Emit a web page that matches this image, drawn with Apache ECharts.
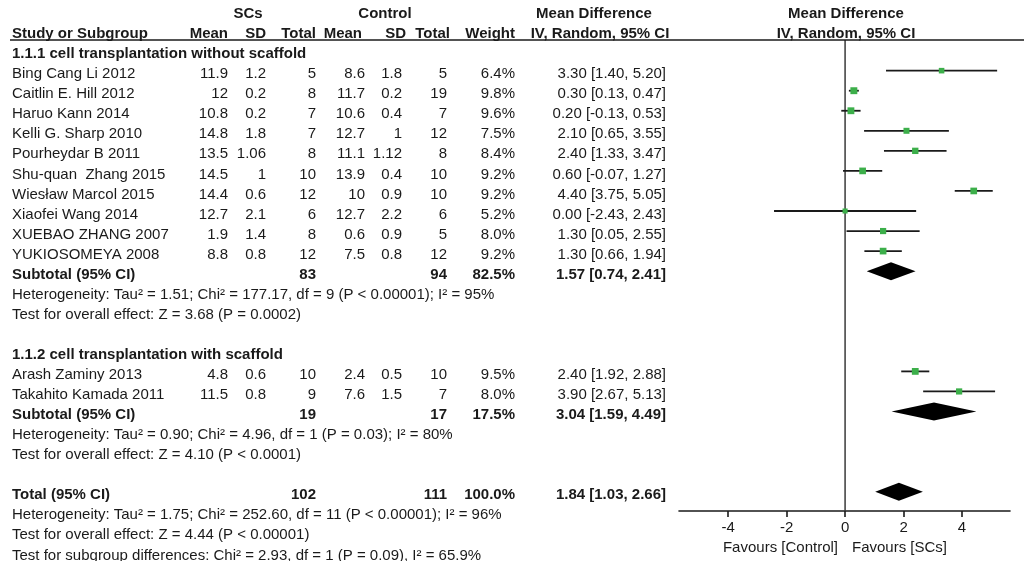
<!DOCTYPE html>
<html><head><meta charset="utf-8">
<script src="https://cdn.jsdelivr.net/npm/echarts@6/dist/echarts.min.js"></script>
<style>html,body{margin:0;padding:0;background:#fff}#c{width:1024px;height:561px}</style>
</head><body><div id="c"></div>
<script>
// ---- data ----
const studies1 = ['Bing Cang Li 2012','Caitlin E. Hill 2012','Haruo Kann 2014','Kelli G. Sharp 2010','Pourheydar B 2011','Shu-quan  Zhang 2015','Wiesław Marcol 2015','Xiaofei Wang 2014','XUEBAO ZHANG 2007','YUKIOSOMEYA 2008'];
const scMean1 = [11.9,12,10.8,14.8,13.5,14.5,14.4,12.7,1.9,8.8];
const scSD1 = [1.2,0.2,0.2,1.8,1.06,1,0.6,2.1,1.4,0.8];
const scN1 = [5,8,7,7,8,10,12,6,8,12];
const ctMean1 = [8.6,11.7,10.6,12.7,11.1,13.9,10,12.7,0.6,7.5];
const ctSD1 = [1.8,0.2,0.4,1,1.12,0.4,0.9,2.2,0.9,0.8];
const ctN1 = [5,19,7,12,8,10,10,6,5,12];
const weight1 = [6.4,9.8,9.6,7.5,8.4,9.2,9.2,5.2,8.0,9.2];
const md1 = [3.30,0.30,0.20,2.10,2.40,0.60,4.40,0.00,1.30,1.30];
const lo1 = [1.40,0.13,-0.13,0.65,1.33,-0.07,3.75,-2.43,0.05,0.66];
const hi1 = [5.20,0.47,0.53,3.55,3.47,1.27,5.05,2.43,2.55,1.94];

const studies2 = ['Arash Zaminy 2013','Takahito Kamada 2011'];
const scMean2 = [4.8,11.5];
const scSD2 = [0.6,0.8];
const scN2 = [10,9];
const ctMean2 = [2.4,7.6];
const ctSD2 = [0.5,1.5];
const ctN2 = [10,7];
const weight2 = [9.5,8.0];
const md2 = [2.40,3.90];
const lo2 = [1.92,2.67];
const hi2 = [2.88,5.13];

// subtotal 1, subtotal 2, total
const pooledLabel = ['Subtotal (95% CI)','Subtotal (95% CI)','Total (95% CI)'];
const pooledScN = [83,19,102];
const pooledCtN = [94,17,111];
const pooledWeight = ['82.5%','17.5%','100.0%'];
const pooledMD = [1.57,3.04,1.84];
const pooledLo = [0.74,1.59,1.03];
const pooledHi = [2.41,4.49,2.66];

const groupTitles = ['1.1.1 cell transplantation without scaffold','1.1.2 cell transplantation with scaffold'];
const hetText = [
  'Heterogeneity: Tau² = 1.51; Chi² = 177.17, df = 9 (P < 0.00001); I² = 95%',
  'Heterogeneity: Tau² = 0.90; Chi² = 4.96, df = 1 (P = 0.03); I² = 80%',
  'Heterogeneity: Tau² = 1.75; Chi² = 252.60, df = 11 (P < 0.00001); I² = 96%'
];
const effectText = [
  'Test for overall effect: Z = 3.68 (P = 0.0002)',
  'Test for overall effect: Z = 4.10 (P < 0.0001)',
  'Test for overall effect: Z = 4.44 (P < 0.00001)'
];
const subgroupText = 'Test for subgroup differences: Chi² = 2.93, df = 1 (P = 0.09), I² = 65.9%';
const axisTicks = [-4,-2,0,2,4];
const favourLeft = 'Favours [Control]';
const favourRight = 'Favours [SCs]';

// ---- layout ----
const FONT = '"Liberation Sans", Arial, Helvetica, sans-serif';
const FS = 15;
const COL = {study:12, scMean:228, scSD:266, scN:316, ctMean:365, ctSD:402, ctN:447, weight:515, md:666, mdHead:594, mdHead2:600, plotHead:846, scs:248, ctl:385};
const fmt = v => v.toFixed(2);
const ciText = (m,l,h) => fmt(m) + ' [' + fmt(l) + ', ' + fmt(h) + ']';

const cells = [];
function cell(x, r, t, a, b) { cells.push({x, r, t: String(t), a: a || 'left', b: !!b}); }

// header
cell(COL.scs, 0, 'SCs', 'center', true);
cell(COL.ctl, 0, 'Control', 'center', true);
cell(COL.mdHead, 0, 'Mean Difference', 'center', true);
cell(COL.plotHead, 0, 'Mean Difference', 'center', true);
cell(COL.study, 1, 'Study or Subgroup', 'left', true);
cell(COL.scMean, 1, 'Mean', 'right', true);
cell(COL.scSD, 1, 'SD', 'right', true);
cell(COL.scN, 1, 'Total', 'right', true);
cell(COL.ctMean - 3, 1, 'Mean', 'right', true);
cell(COL.ctSD + 4, 1, 'SD', 'right', true);
cell(COL.ctN + 3, 1, 'Total', 'right', true);
cell(COL.weight, 1, 'Weight', 'right', true);
cell(COL.mdHead2, 1, 'IV, Random, 95% CI', 'center', true);
cell(COL.plotHead, 1, 'IV, Random, 95% CI', 'center', true);

const trialRows = [];
const pooledRows = [];
function addStudies(r0, names, sm, ss, sn, cm, cs, cn, w, md, lo, hi) {
  names.forEach((n, i) => {
    const r = r0 + i;
    cell(COL.study, r, n);
    cell(COL.scMean, r, sm[i], 'right');
    cell(COL.scSD, r, ss[i], 'right');
    cell(COL.scN, r, sn[i], 'right');
    cell(COL.ctMean, r, cm[i], 'right');
    cell(COL.ctSD, r, cs[i], 'right');
    cell(COL.ctN, r, cn[i], 'right');
    cell(COL.weight, r, w[i].toFixed(1) + '%', 'right');
    cell(COL.md, r, ciText(md[i], lo[i], hi[i]), 'right');
    trialRows.push([lo[i], hi[i], md[i], r, w[i]]);
  });
}
function addPooled(k, r) {
  cell(COL.study, r, pooledLabel[k], 'left', true);
  cell(COL.scN, r, pooledScN[k], 'right', true);
  cell(COL.ctN, r, pooledCtN[k], 'right', true);
  cell(COL.weight, r, pooledWeight[k], 'right', true);
  cell(COL.md, r, ciText(pooledMD[k], pooledLo[k], pooledHi[k]), 'right', true);
  pooledRows.push([pooledLo[k], pooledHi[k], pooledMD[k], r]);
}
cell(COL.study, 2, groupTitles[0], 'left', true);
addStudies(3, studies1, scMean1, scSD1, scN1, ctMean1, ctSD1, ctN1, weight1, md1, lo1, hi1);
addPooled(0, 13);
cell(COL.study, 14, hetText[0]);
cell(COL.study, 15, effectText[0]);
cell(COL.study, 17, groupTitles[1], 'left', true);
addStudies(18, studies2, scMean2, scSD2, scN2, ctMean2, ctSD2, ctN2, weight2, md2, lo2, hi2);
addPooled(1, 20);
cell(COL.study, 21, hetText[1]);
cell(COL.study, 22, effectText[1]);
addPooled(2, 24);
cell(COL.study, 25, hetText[2]);
cell(COL.study, 26, effectText[2]);
cell(COL.study, 27, subgroupText);
cell(838, 26.6, favourLeft, 'right');
cell(852, 26.6, favourRight, 'left');

const INK = '#1a1a1a';
const chart = echarts.init(document.getElementById('c'));
chart.setOption({
  animation: false,
  backgroundColor: '#fff',
  grid: [
    {left: 679, right: 14, top: 40, bottom: 50},
    {left: 0, right: 0, top: 0, bottom: 0}
  ],
  xAxis: [
    {gridIndex: 0, type: 'value', min: -5.68, max: 5.64,
     axisLine: {show: true, onZero: false, lineStyle: {color: INK, width: 1.6}},
     axisTick: {show: true, customValues: axisTicks, length: 6, lineStyle: {color: INK, width: 1.6}},
     axisLabel: {customValues: axisTicks, color: INK, fontSize: 15, fontFamily: FONT, margin: 9},
     splitLine: {show: false}},
    {gridIndex: 1, type: 'value', min: 0, max: 1024, show: false}
  ],
  yAxis: [
    {gridIndex: 0, type: 'value', min: 1.471, max: 24.963, inverse: true, show: false},
    {gridIndex: 1, type: 'value', min: -0.698, max: 27.28, inverse: true, show: false}
  ],
  series: [
    { // zero line
      type: 'custom', xAxisIndex: 0, yAxisIndex: 0, data: [[0, 5]], z: 1,
      renderItem: (params, api) => {
        const cs = params.coordSys;
        const p = api.coord([api.value(0), api.value(1)]);
        return {type: 'line', shape: {x1: p[0], y1: cs.y, x2: p[0], y2: cs.y + cs.height},
                style: {stroke: '#3a3a3a', lineWidth: 1.5}};
      }
    },
    { // study CIs + squares
      type: 'custom', xAxisIndex: 0, yAxisIndex: 0, data: trialRows, z: 3,
      renderItem: (params, api) => {
        const r = api.value(3);
        const a = api.coord([api.value(0), r]);
        const b = api.coord([api.value(1), r]);
        const m = api.coord([api.value(2), r]);
        const s = 3 + api.value(4) * 0.4;
        return {type: 'group', children: [
          {type: 'line', shape: {x1: a[0], y1: a[1], x2: b[0], y2: b[1]}, style: {stroke: '#1a1a1a', lineWidth: 1.8}},
          {type: 'rect', shape: {x: m[0] - s / 2, y: m[1] - s / 2, width: s, height: s}, style: {fill: '#3caf4a'}}
        ]};
      }
    },
    { // pooled diamonds
      type: 'custom', xAxisIndex: 0, yAxisIndex: 0, data: pooledRows, z: 3,
      renderItem: (params, api) => {
        const r = api.value(3);
        const a = api.coord([api.value(0), r]);
        const b = api.coord([api.value(1), r]);
        const m = api.coord([api.value(2), r]);
        const h = 9;
        return {type: 'polygon', shape: {points: [[a[0], a[1]], [m[0], m[1] - h], [b[0], b[1]], [m[0], m[1] + h]]},
                style: {fill: '#000'}};
      }
    },
    { // header rule
      type: 'custom', xAxisIndex: 1, yAxisIndex: 1, data: [[10, 1024, 1.297]], z: 2,
      renderItem: (params, api) => {
        const a = api.coord([api.value(0), api.value(2)]);
        const b = api.coord([api.value(1), api.value(2)]);
        return {type: 'line', shape: {x1: a[0], y1: a[1], x2: b[0], y2: b[1]}, style: {stroke: INK, lineWidth: 1.6}};
      }
    },
    { // table text
      type: 'custom', xAxisIndex: 1, yAxisIndex: 1, data: cells.map(c => [c.x, c.r]), z: 4,
      renderItem: (params, api) => {
        const c = cells[params.dataIndex];
        const p = api.coord([api.value(0), api.value(1)]);
        return {type: 'text', x: p[0], y: p[1], style: {
          text: c.t, align: c.a, verticalAlign: 'middle', fill: INK,
          fontFamily: FONT, fontSize: FS, fontWeight: c.b ? 'bold' : 'normal'}};
      }
    }
  ]
});
</script></body></html>
